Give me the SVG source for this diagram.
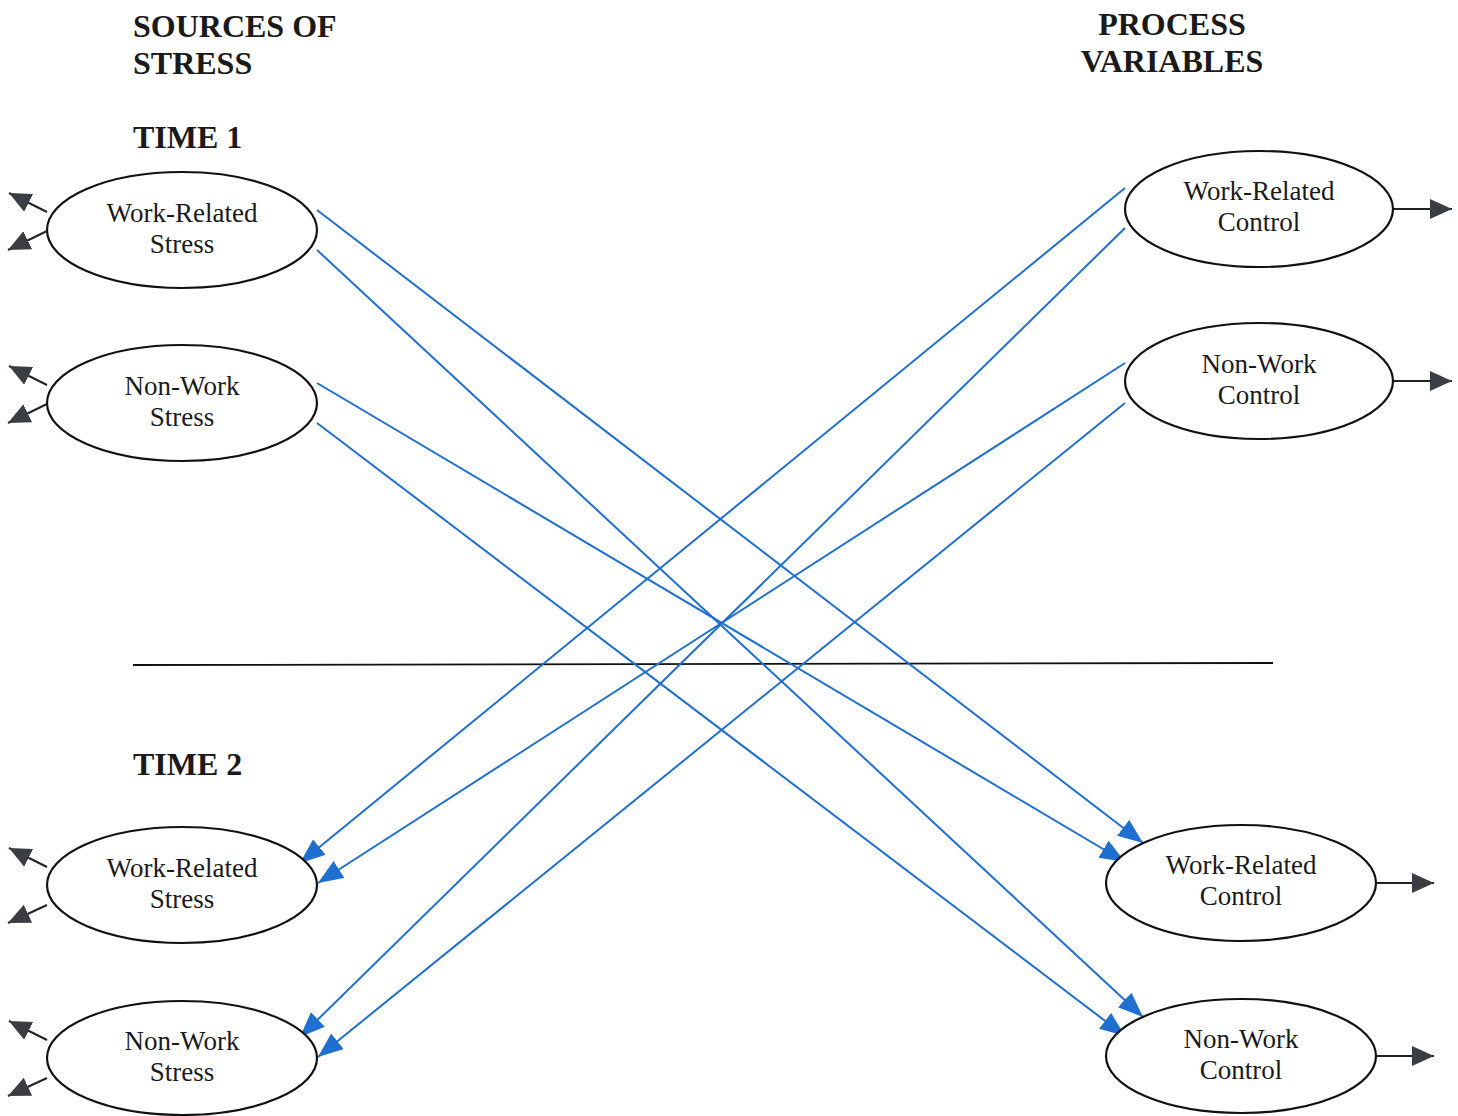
<svg xmlns="http://www.w3.org/2000/svg" width="1458" height="1116" viewBox="0 0 1458 1116">
  <style>
    .node ellipse { fill: #ffffff; stroke: #111111; stroke-width: 2.2; }
    .label { font-family: "Liberation Serif", "Times New Roman", serif; font-size: 27px; fill: #1a1a1a; text-anchor: middle; }
    .head { font-family: "Liberation Serif", "Times New Roman", serif; font-size: 32px; font-weight: bold; fill: #1a1a1a; }
    .path { stroke: #1f6fd0; stroke-width: 2; fill: none; marker-end: url(#blueHead); }
    .err { stroke: #222222; stroke-width: 2; fill: none; marker-end: url(#greyHead); }
  </style>
  <defs>
    <marker id="blueHead" markerUnits="userSpaceOnUse" markerWidth="28" markerHeight="22" refX="25" refY="10" orient="auto">
      <path d="M0,0 L25,10 L0,20 Z" fill="#1f6fd0"/>
    </marker>
    <marker id="greyHead" markerUnits="userSpaceOnUse" markerWidth="26" markerHeight="22" refX="22" refY="10" orient="auto">
      <path d="M0,0 L22,10 L0,20 Z" fill="#3a3d42"/>
    </marker>
  </defs>

  <rect width="1458" height="1116" fill="#ffffff"/>

  <!-- headings -->
  <text class="head" x="133" y="37">SOURCES OF</text>
  <text class="head" x="133" y="74">STRESS</text>
  <text class="head" x="1172" y="35" text-anchor="middle">PROCESS</text>
  <text class="head" x="1172" y="72" text-anchor="middle">VARIABLES</text>
  <text class="head" x="133" y="148">TIME 1</text>
  <text class="head" x="133" y="775">TIME 2</text>

  <!-- divider between the two waves -->
  <line x1="133" y1="665" x2="1273" y2="663" stroke="#111111" stroke-width="1.8"/>

  <!-- connectors -->
  <g id="connectors">
    <!-- time 1 stress to time 2 control -->
    <line class="path" x1="317" y1="210" x2="1143" y2="843"/>
    <line class="path" x1="317" y1="250" x2="1143" y2="1017"/>
    <line class="path" x1="317" y1="383" x2="1125" y2="862"/>
    <line class="path" x1="317" y1="423" x2="1125" y2="1036"/>
    <!-- time 1 control to time 2 stress -->
    <line class="path" x1="1125" y1="188" x2="300" y2="863"/>
    <line class="path" x1="1125" y1="228" x2="300" y2="1037"/>
    <line class="path" x1="1125" y1="363" x2="318" y2="883"/>
    <line class="path" x1="1125" y1="403" x2="318" y2="1057"/>
    <!-- residual / error arrows -->
    <line class="err" x1="47" y1="212" x2="9" y2="193"/>
    <line class="err" x1="47" y1="231" x2="8" y2="250"/>
    <line class="err" x1="47" y1="385" x2="9" y2="366"/>
    <line class="err" x1="47" y1="404" x2="8" y2="423"/>
    <line class="err" x1="47" y1="867" x2="9" y2="848"/>
    <line class="err" x1="47" y1="905" x2="8" y2="923"/>
    <line class="err" x1="47" y1="1040" x2="9" y2="1021"/>
    <line class="err" x1="47" y1="1078" x2="8" y2="1096"/>
    <line class="err" x1="1393" y1="209" x2="1452" y2="209"/>
    <line class="err" x1="1393" y1="381" x2="1452" y2="381"/>
    <line class="err" x1="1376" y1="883" x2="1434" y2="883"/>
    <line class="err" x1="1376" y1="1056" x2="1434" y2="1056"/>
  </g>

  <!-- time 1 nodes -->
  <g id="t1-work-stress" class="node">
    <ellipse cx="182" cy="230" rx="135" ry="58"/>
    <text class="label" x="182" y="222">Work-Related</text>
    <text class="label" x="182" y="253">Stress</text>
  </g>
  <g id="t1-nonwork-stress" class="node">
    <ellipse cx="182" cy="403" rx="135" ry="58"/>
    <text class="label" x="182" y="395">Non-Work</text>
    <text class="label" x="182" y="426">Stress</text>
  </g>
  <g id="t1-work-control" class="node">
    <ellipse cx="1259" cy="209" rx="134" ry="58"/>
    <text class="label" x="1259" y="200">Work-Related</text>
    <text class="label" x="1259" y="231">Control</text>
  </g>
  <g id="t1-nonwork-control" class="node">
    <ellipse cx="1259" cy="381" rx="134" ry="58"/>
    <text class="label" x="1259" y="373">Non-Work</text>
    <text class="label" x="1259" y="404">Control</text>
  </g>

  <!-- time 2 nodes -->
  <g id="t2-work-stress" class="node">
    <ellipse cx="182" cy="885" rx="135" ry="58"/>
    <text class="label" x="182" y="877">Work-Related</text>
    <text class="label" x="182" y="908">Stress</text>
  </g>
  <g id="t2-nonwork-stress" class="node">
    <ellipse cx="182" cy="1058" rx="135" ry="57"/>
    <text class="label" x="182" y="1050">Non-Work</text>
    <text class="label" x="182" y="1081">Stress</text>
  </g>
  <g id="t2-work-control" class="node">
    <ellipse cx="1241" cy="883" rx="135" ry="58"/>
    <text class="label" x="1241" y="874">Work-Related</text>
    <text class="label" x="1241" y="905">Control</text>
  </g>
  <g id="t2-nonwork-control" class="node">
    <ellipse cx="1241" cy="1056" rx="135" ry="57"/>
    <text class="label" x="1241" y="1048">Non-Work</text>
    <text class="label" x="1241" y="1079">Control</text>
  </g>
</svg>
